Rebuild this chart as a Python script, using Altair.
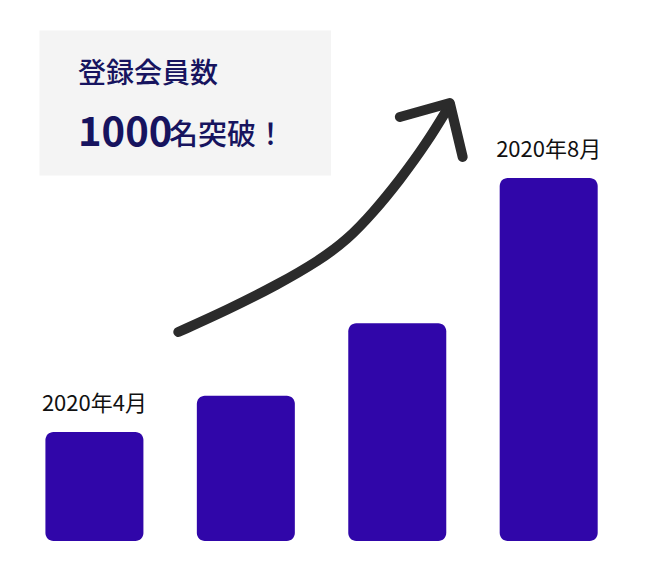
import altair as alt
import pandas as pd

# ---- data ----
bar_index = [0, 1, 2, 3]
members = [300, 400, 600, 1000]
bar_labels = ["2020年4月", "", "", "2020年8月"]

headline_1 = "登録会員数"
headline_num = "1000"
headline_rest = "名突破！"

# decorative trend arrow, in chart data units (slot index, members)
arrow_x = [0.554, 0.877, 1.206, 1.490, 1.668, 1.839, 2.017, 2.195, 2.347]
arrow_y = [575.8, 636.4, 705.2, 774.1, 829.2, 903.6, 994.5, 1096.4, 1201.1]
head_x = [2.017, 2.347, 2.432]
head_y = [1168.0, 1206.6, 1057.9]

FONT = "Noto Sans CJK JP"
BAR = "#3006A9"
NAVY = "#17145F"
INK = "#2B2B2B"

bars_df = pd.DataFrame({"i": bar_index, "v": members, "label": bar_labels})
arrow_df = pd.DataFrame({"i": arrow_x, "v": arrow_y, "k": range(len(arrow_x))})
head_df = pd.DataFrame({"i": head_x, "v": head_y, "k": range(len(head_x))})
one = pd.DataFrame({"a": [0]})

# plot x = 86.4 + 151.4 * i ; plot y = 533 - 0.363 * v
xs = alt.Scale(domain=[-0.5707, 3.5898], nice=False, zero=False, padding=0)
ys = alt.Scale(domain=[-52.3, 1468.3], nice=False, zero=False, padding=0)

X = alt.X("i:Q", scale=xs, axis=None)
Y = alt.Y("v:Q", scale=ys, axis=None)

box = alt.Chart(one).mark_rect(color="#F4F4F4").encode(
    x=alt.value(31.5), x2=alt.value(323), y=alt.value(22.5), y2=alt.value(167.5)
)
t1 = alt.Chart(one).mark_text(
    text=headline_1, font=FONT, fontSize=28, fontWeight=500, color=NAVY,
    align="left", baseline="alphabetic"
).encode(x=alt.value(70), y=alt.value(75))
t2 = alt.Chart(one).mark_text(
    text=headline_num, font=FONT, fontSize=40, fontWeight="bold", color=NAVY,
    align="left", baseline="alphabetic"
).encode(x=alt.value(70), y=alt.value(138))
t3 = alt.Chart(one).mark_text(
    text=headline_rest, font=FONT, fontSize=29, fontWeight=500, color=NAVY,
    align="left", baseline="alphabetic"
).encode(x=alt.value(161), y=alt.value(137))

bars = alt.Chart(bars_df).mark_bar(size=98, cornerRadius=8, color=BAR).encode(
    x=X, y=Y, y2=alt.datum(0)
)
labels = alt.Chart(bars_df).mark_text(
    font=FONT, fontSize=22, color="#111111", baseline="alphabetic", dy=-21
).encode(x=X, y=Y, text="label:N")

arrow = alt.Chart(arrow_df).mark_line(
    strokeWidth=10, strokeCap="round", strokeJoin="round",
    interpolate="basis", color=INK
).encode(x=X, y=Y, order="k:Q")
head = alt.Chart(head_df).mark_line(
    strokeWidth=10, strokeCap="round", strokeJoin="round", color=INK
).encode(x=X, y=Y, order="k:Q")

chart = alt.layer(box, t1, t2, t3, bars, labels, arrow, head).properties(
    width=630, height=552, padding=0
).configure_view(strokeWidth=0)

chart.save("out.html", embed_options={"renderer": "svg", "actions": False})
